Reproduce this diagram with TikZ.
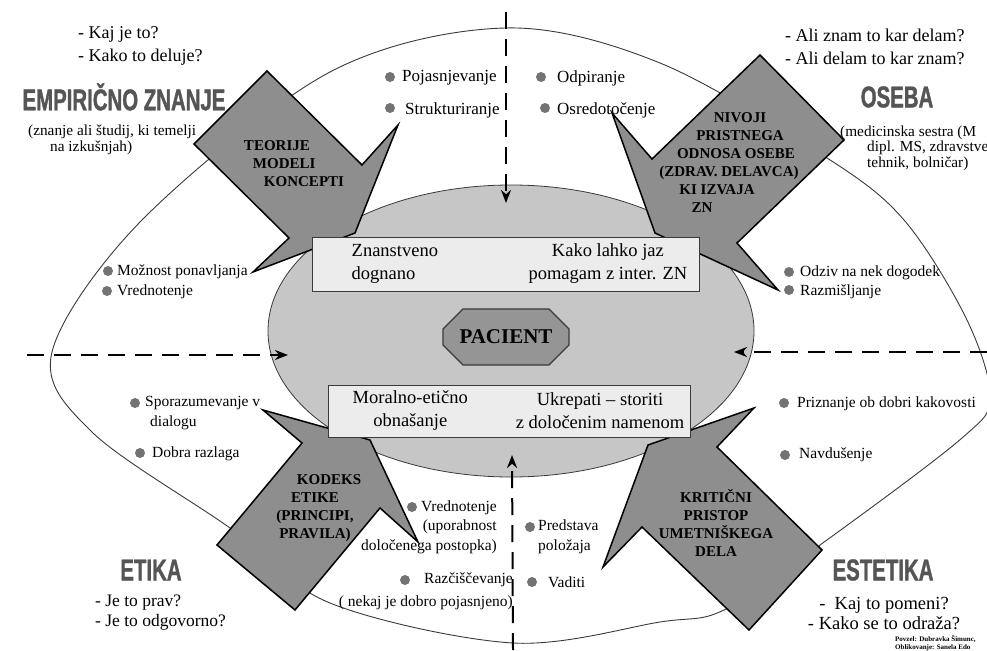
\documentclass[tikz,border=0pt]{standalone}
\usepackage{fontspec}
\setmainfont{Liberation Serif}
\newfontfamily\headfam{Liberation Sans}[FakeStretch=0.68, FakeBold=1.2]
\usetikzlibrary{shapes.geometric,shapes.misc,arrows.meta,positioning}

\definecolor{ovalgray}{HTML}{C6C6C6}
\definecolor{boxgray}{HTML}{ECECEC}
\definecolor{arrgray}{HTML}{8E8E8E}
\definecolor{dotgray}{HTML}{737373}
\definecolor{pacgray}{HTML}{959595}
\definecolor{linegray}{HTML}{3A3A3A}
\definecolor{headgray}{HTML}{555555}

\tikzset{
  quest/.style={anchor=west, inner sep=0pt, align=left, font=\fontsize{18}{23}\selectfont},
  head/.style={inner sep=0pt, text=headgray, font=\headfam\bfseries\fontsize{30}{30}\selectfont},
  note/.style={anchor=west, inner sep=0pt, align=left, font=\fontsize{15.3}{15.5}\selectfont},
  dot/.style={circle, fill=dotgray, inner sep=0pt, minimum size=10pt},
  item/.style={anchor=west, inner sep=0pt, align=left, font=\fontsize{15.5}{19.5}\selectfont},
  bigitem/.style={item, font=\fontsize{17}{19.5}\selectfont},
  blockarrow/.style={fill=arrgray, draw=black, line width=1.5pt, line join=miter},
  arrtext/.style={inner sep=0pt, font=\bfseries\fontsize{15}{18}\selectfont},
  infobox/.style={draw=linegray, fill=boxgray, line width=1pt, inner sep=0pt},
  boxtext/.style={inner sep=0pt, font=\fontsize{18.5}{23}\selectfont},
  dasharrow/.style={line width=2pt, dash pattern=on 17pt off 10pt, -{Stealth[length=13pt,width=10pt]}},
}

\begin{document}
\begin{tikzpicture}[x=1pt, y=-1pt]
  \useasboundingbox (0,0) rectangle (987,650);

  % outer lens
  \draw[linegray, line width=0.9pt] plot[smooth cycle, tension=0.55] coordinates {(52,352) (143,219) (330,72) (505,28) (660,63) (827,158) (904,220) (966,318) (990,396) (962,438) (820,545) (724,610) (660,622) (513,643) (330,603) (230,528) (92,432)};

  % central oval
  \node[ellipse, draw=linegray, line width=0.8pt, fill=ovalgray, minimum width=486pt, minimum height=292pt] (oval) at (511,331) {};

  % dashed arrows into the oval
  \coordinate (vtop) at (506,12);     \coordinate (vtopend) at (506,203);
  \coordinate (vbot) at (513,650);    \coordinate (vbotend) at (512,455);
  \coordinate (hleft) at (27,355);    \coordinate (hleftend) at (288,355);
  \coordinate (hright) at (987,352);  \coordinate (hrightend) at (734,352);
  \draw[dasharrow] (vtop) -- (vtopend);
  \draw[dasharrow] (vbot) -- (vbotend);
  \draw[dasharrow] (hleft) -- (hleftend);
  \draw[dasharrow] (hright) -- (hrightend);

  % block arrows
  \draw[blockarrow] (267,71) -- (362,165) -- (398,125) -- (355,233) -- (253,272) -- (289,238) -- (194,144) -- cycle;
  \draw[blockarrow] (760,55) -- (844,140) -- (737,243) -- (778,290) -- (655,233) -- (612,113) -- (652,159) -- cycle;
  \draw[blockarrow] (217,545) -- (302,443) -- (263,410) -- (370,440) -- (418,542) -- (380,508) -- (295,610) -- cycle;
  \draw[blockarrow] (822,550) -- (717,447) -- (754,408) -- (648,445) -- (603,567) -- (642,527) -- (749,630) -- cycle;

  \node[arrtext, align=left] (teorije) at (294,164) {TEORIJE\\\hspace*{9pt}MODELI\\\hspace*{20pt}KONCEPTI};
  \node[arrtext, align=center] (nivoji) at (740,163) {NIVOJI\\PRISTNEGA\\ODNOSA OSEBE\rule{8pt}{0pt}\\(ZDRAV. DELAVCA)\rule{22pt}{0pt}\\KI IZVAJA\rule{46pt}{0pt}\\ZN\rule{76pt}{0pt}};
  \node[arrtext, align=center] (kodeks) at (315,508) {\rule{28pt}{0pt}KODEKS\\ETIKE\\(PRINCIPI,\\PRAVILA)};
  \node[arrtext, align=center] (kriticni) at (716,523) {KRITIČNI\\PRISTOP\\UMETNIŠKEGA\\DELA};

  % boxes in the oval
  \node[infobox, minimum width=387pt, minimum height=54pt] (sci) at (505.5,264) {};
  \node[infobox, minimum width=362pt, minimum height=52pt] (moral) at (509,411) {};
  \node[boxtext, anchor=west, align=left] (znan) at ([xshift=40pt]sci.west) {Znanstveno\\dognano};
  \node[boxtext, anchor=east, align=center] (kako) at ([xshift=-12pt]sci.east) {Kako lahko jaz\\pomagam z inter. ZN};
  \node[boxtext, anchor=west, align=center] (etic) at ([xshift=25pt]moral.west) {Moralno-etično\\obnašanje};
  \node[boxtext, anchor=east, align=center] (ukrep) at ([xshift=-6pt]moral.east) {Ukrepati – storiti\\z določenim namenom};

  \node[chamfered rectangle, chamfered rectangle xsep=17pt, chamfered rectangle ysep=13pt, draw=linegray, line width=1.2pt, fill=pacgray, minimum width=126pt, minimum height=56pt, inner sep=0pt, font=\bfseries\fontsize{21}{21}\selectfont] (pac) at (506,337) {PACIENT};

  % headings
  \node[head] (empir) at (124,97) {EMPIRIČNO ZNANJE};
  \node[head] (oseba) at (897,97) {OSEBA};
  \node[head] (etika) at (151,570) {ETIKA};
  \node[head] (estet) at (883,570) {ESTETIKA};

  % questions and notes
  \node[quest] (q1) at (78,46) {- Kaj je to?\\- Kako to deluje?};
  \node[quest] (q2) at (785,47) {- Ali znam to kar delam?\\- Ali delam to kar znam?};
  \node[quest, font=\fontsize{17.5}{20}\selectfont] (q3) at (95,613) {- Je to prav?\\- Je to odgovorno?};
  \node[quest, anchor=center, align=center, font=\fontsize{18.5}{20}\selectfont] (q4) at (884,613) {-\ \ Kaj to pomeni?\\- Kako se to odraža?};
  \node[note] (empnote) at (28,140) {(znanje ali študij, ki temelji\\\hspace*{22pt}na izkušnjah)};
  \node[note] (osnote) at (840,148) {(medicinska sestra (M\\\hspace*{27pt}dipl. MS, zdravstve\\\hspace*{27pt}tehnik, bolničar)};
  \node[anchor=north west, inner sep=0pt, align=left, font=\bfseries\fontsize{7}{8.5}\selectfont] (credit) at (895,635) {Povzel: Dubravka Šimunc,\\Oblikovanje: Sanela Edo};

  % bullet items
  \node[dot] (dpoj) at (390,77) {};    \node[bigitem] (pojasn) at (402,78) {Pojasnjevanje};
  \node[dot] (dstr) at (390,108) {};   \node[bigitem] (strukt) at (405,110) {Strukturiranje};
  \node[dot] (dodp) at (541,77) {};    \node[bigitem] (odpir) at (557,78) {Odpiranje};
  \node[dot] (dosr) at (545,108) {};   \node[bigitem] (osred) at (557,110) {Osredotočenje};
  \node[dot] (dmoz) at (108,271) {};   \node[item] (moznost) at (117,272) {Možnost ponavljanja};
  \node[dot] (dvre) at (107,291) {};   \node[item] (vredn) at (117,292) {Vrednotenje};
  \node[dot] (dodz) at (789,272) {};   \node[item] (odziv) at (800,273) {Odziv na nek dogodek};
  \node[dot] (draz) at (789,290) {};   \node[item] (razmis) at (800,292) {Razmišljanje};
  \node[dot] (dspo) at (135,403) {};   \node[item] (sporaz) at (145,413) {Sporazumevanje v\\\hspace*{5pt}dialogu};
  \node[dot] (ddob) at (140,453) {};   \node[item] (dobra) at (152,454) {Dobra razlaga};
  \node[dot] (dpri) at (784,403) {};   \node[item] (prizn) at (797,404) {Priznanje ob dobri kakovosti};
  \node[dot] (dnav) at (785,455) {};   \node[item] (navdus) at (799,455) {Navdušenje};
  \node[dot] (dupo) at (412,507) {};   \node[item, anchor=east, align=right] (uporab) at (497,527) {Vrednotenje\\(uporabnost\\določenega postopka)};
  \node[dot] (drac) at (405,580) {};   \node[item, anchor=east, align=right, font=\fontsize{15.5}{23}\selectfont] (razcis) at (513,591) {Razčiščevanje\\( nekaj je dobro pojasnjeno)};
  \node[dot] (dpre) at (530,527) {};   \node[item] (predst) at (538,537) {Predstava\\položaja};
  \node[dot] (dvad) at (532,582) {};   \node[item] (vaditi) at (548,582) {Vaditi};
\end{tikzpicture}
\end{document}
